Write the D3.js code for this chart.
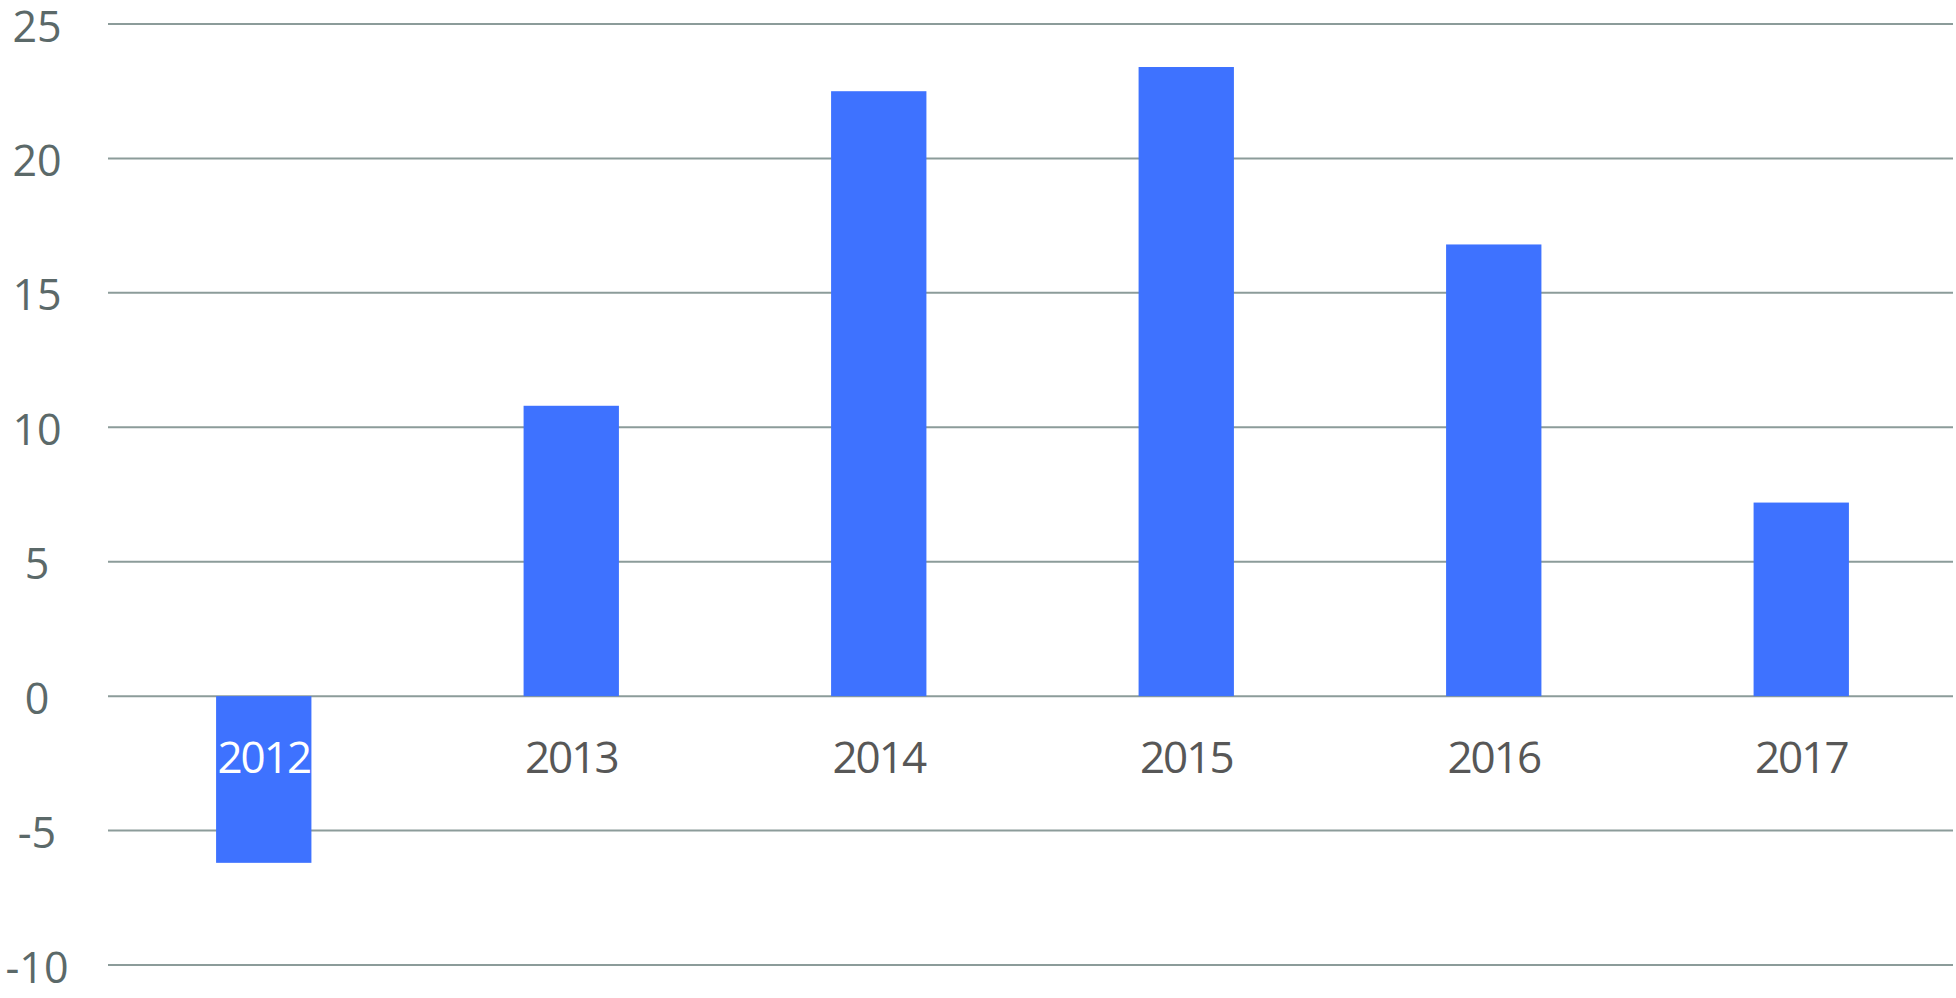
<!DOCTYPE html>
<html lang="en">

<head>
    <meta charset="UTF-8">
    <meta name="viewport" content="width=device-width, initial-scale=1.0">
    <script src="https://d3js.org/d3.v7.min.js"></script>
    <title>Yearly change</title>
    <style>
        body {
            margin: 0;
            background: white;
        }

        .grid line {
            stroke: #8c9c9a;
            stroke-width: 2px;
        }

        .y-label {
            font-family: "Open Sans", sans-serif;
            font-size: 43px;
            fill: #5b6969;
        }

        .x-label {
            font-family: "Open Sans", sans-serif;
            font-size: 44px;
            letter-spacing: -2px;
            fill: #575757;
        }
    </style>
</head>

<body>
    <div id="chart"></div>
    <script>
        /*------------------------- data -------------------------*/
        const years = ["2012", "2013", "2014", "2015", "2016", "2017"];
        const values = [-6.2, 10.8, 22.5, 23.4, 16.8, 7.2];
        const yTicks = [25, 20, 15, 10, 5, 0, -5, -10];

        /*---------------------- dimensions ----------------------*/
        const width = 1956;
        const height = 998;
        const gridLeft = 108, gridRight = 1953;

        const svg = d3.select("#chart").append("svg")
            .attr("width", width)
            .attr("height", height);

        /*------------------------ scales ------------------------*/
        const y = d3.scaleLinear()
            .domain([-10, 25])
            .range([965, 24]);

        const x = d3.scaleBand()
            .domain(years)
            .range([110, 1955])
            .paddingInner(0.69)
            .paddingOuter(0.345);

        /*---------------------- gridlines -----------------------*/
        const grid = svg.append("g").attr("class", "grid");
        grid.selectAll("line")
            .data(yTicks)
            .enter()
            .append("line")
            .attr("x1", gridLeft)
            .attr("x2", gridRight)
            .attr("y1", d => y(d))
            .attr("y2", d => y(d));

        // y tick labels, centred on their gridline
        svg.append("g").selectAll("text")
            .data(yTicks)
            .enter()
            .append("text")
            .attr("class", "y-label")
            .attr("x", 37)
            .attr("y", d => y(d) + 1)
            .attr("text-anchor", "middle")
            .attr("dominant-baseline", "central")
            .text(d => d);

        /*------------------------- bars -------------------------*/
        svg.append("g").selectAll("rect")
            .data(values)
            .enter()
            .append("rect")
            .attr("x", (d, i) => x(years[i]))
            .attr("width", x.bandwidth())
            .attr("y", d => y(Math.max(0, d)))
            .attr("height", d => Math.abs(y(d) - y(0)))
            .attr("fill", "#3e72ff");

        // category labels below the zero line (white when inside a bar)
        svg.append("g").selectAll("text")
            .data(years)
            .enter()
            .append("text")
            .attr("class", "x-label")
            .attr("x", d => x(d) + x.bandwidth() / 2)
            .attr("y", y(0) + 60)
            .attr("text-anchor", "middle")
            .attr("dominant-baseline", "central")
            .style("fill", (d, i) => values[i] < -3 ? "white" : null)
            .text(d => d);
    </script>
</body>

</html>
